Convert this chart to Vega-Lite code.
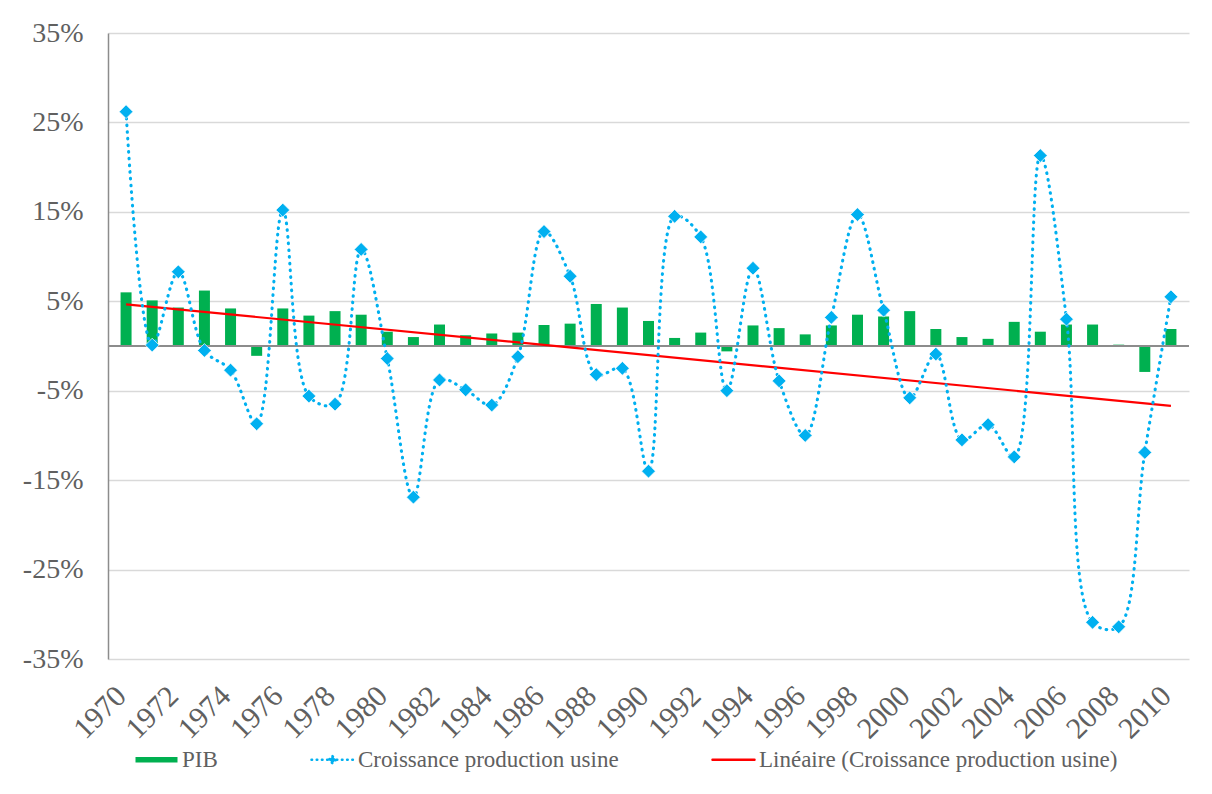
{
  "$schema": "https://vega.github.io/schema/vega-lite/v6.json",
  "autosize": {"type": "none"},
  "width": 1081,
  "height": 626,
  "padding": {"left": 108, "top": 33, "right": 23, "bottom": 135},
  "background": "white",
  "config": {
    "font": "Liberation Serif",
    "view": {"stroke": null}
  },
  "data": {
    "values": [
      {"year": 1970, "pib": 6.0, "prod": 26.2},
      {"year": 1971, "pib": 5.1, "prod": 0.1},
      {"year": 1972, "pib": 4.3, "prod": 8.3},
      {"year": 1973, "pib": 6.2, "prod": -0.5},
      {"year": 1974, "pib": 4.2, "prod": -2.7},
      {"year": 1975, "pib": -1.1, "prod": -8.7},
      {"year": 1976, "pib": 4.2, "prod": 15.2},
      {"year": 1977, "pib": 3.4, "prod": -5.6},
      {"year": 1978, "pib": 3.9, "prod": -6.5},
      {"year": 1979, "pib": 3.5, "prod": 10.8},
      {"year": 1980, "pib": 1.6, "prod": -1.4},
      {"year": 1981, "pib": 1.0, "prod": -16.9},
      {"year": 1982, "pib": 2.4, "prod": -3.8},
      {"year": 1983, "pib": 1.2, "prod": -4.9},
      {"year": 1984, "pib": 1.4, "prod": -6.6},
      {"year": 1985, "pib": 1.5, "prod": -1.2},
      {"year": 1986, "pib": 2.35, "prod": 12.8},
      {"year": 1987, "pib": 2.5, "prod": 7.8},
      {"year": 1988, "pib": 4.7, "prod": -3.2},
      {"year": 1989, "pib": 4.3, "prod": -2.5},
      {"year": 1990, "pib": 2.8, "prod": -14.0},
      {"year": 1991, "pib": 0.9, "prod": 14.5},
      {"year": 1992, "pib": 1.5, "prod": 12.2},
      {"year": 1993, "pib": -0.6, "prod": -5.0},
      {"year": 1994, "pib": 2.3, "prod": 8.7},
      {"year": 1995, "pib": 2.0, "prod": -3.9},
      {"year": 1996, "pib": 1.3, "prod": -10.0},
      {"year": 1997, "pib": 2.3, "prod": 3.2},
      {"year": 1998, "pib": 3.5, "prod": 14.7},
      {"year": 1999, "pib": 3.3, "prod": 4.0},
      {"year": 2000, "pib": 3.9, "prod": -5.8},
      {"year": 2001, "pib": 1.9, "prod": -0.9},
      {"year": 2002, "pib": 1.0, "prod": -10.5},
      {"year": 2003, "pib": 0.8, "prod": -8.8},
      {"year": 2004, "pib": 2.7, "prod": -12.4},
      {"year": 2005, "pib": 1.6, "prod": 21.3},
      {"year": 2006, "pib": 2.4, "prod": 3.0},
      {"year": 2007, "pib": 2.4, "prod": -30.9},
      {"year": 2008, "pib": 0.15, "prod": -31.4},
      {"year": 2009, "pib": -2.9, "prod": -11.9},
      {"year": 2010, "pib": 1.9, "prod": 5.5}
    ]
  },
  "layer": [
    {
      "mark": {"type": "bar", "size": 11},
      "encoding": {
        "x": {
          "field": "year", "type": "quantitative",
          "scale": {"domain": [1969.5, 2010.5], "nice": false, "zero": false},
          "axis": {
            "title": null,
            "values": [1970, 1972, 1974, 1976, 1978, 1980, 1982, 1984, 1986, 1988, 1990, 1992, 1994, 1996, 1998, 2000, 2002, 2004, 2006, 2008, 2010],
            "format": "d",
            "labelAngle": -45,
            "labelAlign": "right",
            "labelBaseline": "middle",
            "labelFont": "Liberation Serif",
            "labelColor": "#606060",
            "labelFontSize": 30,
            "labelPadding": 32,
            "labelOffset": -5,
            "ticks": false,
            "domain": false,
            "grid": false,
            "labelOverlap": false,
            "labelFlush": false
          }
        },
        "y": {
          "field": "pib", "type": "quantitative",
          "scale": {"domain": [-35, 35], "nice": false, "zero": false},
          "axis": {
            "title": null,
            "values": [-35, -25, -15, -5, 5, 15, 25, 35],
            "labelExpr": "datum.value + '%'",
            "labelFont": "Liberation Serif",
            "labelColor": "#606060",
            "labelFontSize": 28,
            "labelPadding": 25,
            "ticks": false,
            "domain": true,
            "domainColor": "#8c8c8c",
            "domainWidth": 1.5,
            "grid": true,
            "gridColor": "#d9d9d9",
            "gridWidth": 1.3
          }
        },
        "color": {
          "datum": "PIB",
          "type": "nominal",
          "scale": {
            "domain": ["PIB", "Croissance production usine", "Linéaire (Croissance production usine)"],
            "range": ["#00B050", "#00B0F0", "#FF0000"]
          },
          "legend": {
            "title": null,
            "orient": "none",
            "legendX": 37,
            "legendY": 715,
            "direction": "horizontal",
            "labelFont": "Liberation Serif",
            "labelColor": "#606060",
            "labelFontSize": 23,
            "labelLimit": 1000,
            "labelOffset": 14,
            "columnPadding": 88,
            "symbolSize": 1764,
            "encode": {
              "symbols": {
                "update": {
                  "shape": {"signal": "datum.value === 'PIB' ? 'M-1,-0.13H1V0.13H-1Z' : (datum.value === 'Croissance production usine' ? 'M-1,0H-0.2M0.2,0H1M0,-0.17L0.17,0L0,0.17L-0.17,0Z' : 'M-1,0H1')"},
                  "fill": {"signal": "datum.value === 'PIB' ? '#00B050' : (datum.value === 'Croissance production usine' ? '#00B0F0' : 'transparent')"},
                  "stroke": {"signal": "datum.value === 'PIB' ? 'transparent' : (datum.value === 'Croissance production usine' ? '#00B0F0' : '#FF0000')"},
                  "strokeWidth": {"signal": "datum.value === 'PIB' ? 0 : 2.5"},
                  "strokeDash": {"signal": "datum.value === 'Croissance production usine' ? [0.6, 4.6] : [1, 0]"},
                  "strokeCap": {"value": "round"},
                  "opacity": {"value": 1}
                }
              }
            }
          }
        }
      }
    },
    {
      "mark": {"type": "rule", "color": "#8c8c8c", "strokeWidth": 1.5},
      "encoding": {"y": {"datum": 0}}
    },
    {
      "transform": [
        {"regression": "prod", "on": "year", "extent": [1970, 2010]}
      ],
      "mark": {"type": "line", "strokeWidth": 2.2, "color": "#FF0000"},
      "encoding": {
        "x": {"field": "year", "type": "quantitative"},
        "y": {"field": "prod", "type": "quantitative"}
      }
    },
    {
      "mark": {"type": "line", "interpolate": "catmull-rom", "strokeWidth": 3.1, "strokeDash": [0.6, 6.1], "strokeCap": "round", "color": "#00B0F0"},
      "encoding": {
        "x": {"field": "year", "type": "quantitative"},
        "y": {"field": "prod", "type": "quantitative"}
      }
    },
    {
      "mark": {"type": "point", "shape": "diamond", "filled": true, "size": 190, "opacity": 1, "fill": "#00B0F0", "stroke": "white", "strokeWidth": 0.7},
      "encoding": {
        "x": {"field": "year", "type": "quantitative"},
        "y": {"field": "prod", "type": "quantitative"}
      }
    }
  ]
}
